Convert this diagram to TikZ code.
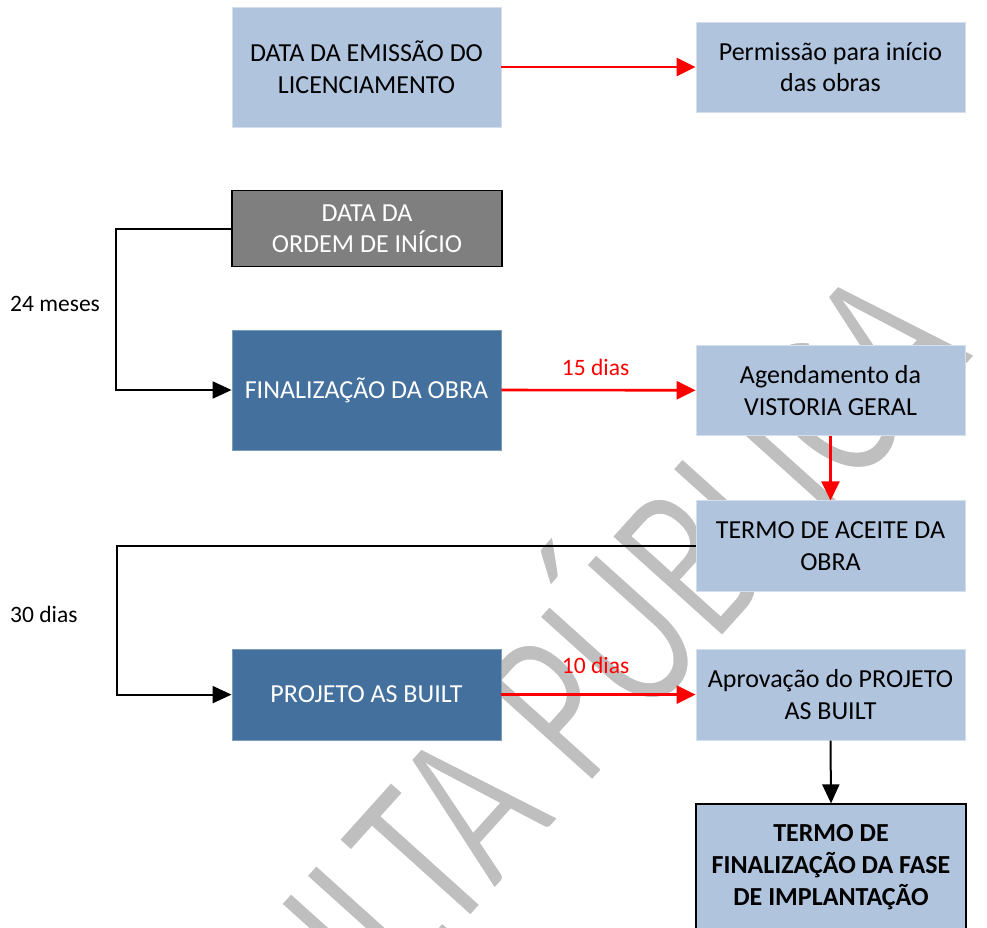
\documentclass[tikz,border=0pt]{standalone}
\usepackage{fontspec}
\setmainfont{Carlito}
\usepackage{tikz}
\usetikzlibrary{arrows.meta,shapes}

\definecolor{azulclaro}{RGB}{176,196,222}
\definecolor{azulescuro}{RGB}{68,112,158}
\definecolor{cinzaescuro}{RGB}{127,127,127}
\definecolor{marcadagua}{RGB}{191,191,191}

\begin{document}
\begin{tikzpicture} [x=1pt, y=-1pt,
				clara/.style={
				% The shape:
				rectangle,
				% The size:
				minimum width=269pt, minimum height=90pt, inner sep=0pt,
				% The border:
				line width=0.8pt, draw=azulclaro!55!white,
				% The filling:
				fill=azulclaro,
				% Font
				text=black, font=\fontsize{26}{31.7}\selectfont
				},
				escura/.style={
				% The shape:
				rectangle,
				% The size:
				minimum width=269pt, minimum height=90pt, inner sep=0pt,
				% The border:
				line width=0.8pt, draw=azulescuro!70!white,
				% The filling:
				fill=azulescuro,
				% Font
				text=white, font=\fontsize{26}{31.7}\selectfont
				},
				cinza/.style={
				% The shape:
				rectangle,
				% The size:
				minimum width=269pt, minimum height=75pt, inner sep=0pt,
				% The border:
				line width=1.2pt, draw=black,
				% The filling:
				fill=cinzaescuro,
				% Font
				text=white, font=\fontsize{26}{31.7}\selectfont
				},
				prazo/.style={
				anchor=base west, inner sep=0pt,
				font=\fontsize{23.5}{28}\selectfont
				},
				seta/.style={line width=2pt, draw=black, -{Triangle[length=19pt,width=17pt]}},
				setavermelha/.style={line width=2.6pt, draw=red, -{Triangle[length=19pt,width=18pt]}},
				]
    \tikzstyle{every node} = [align=center]
    \useasboundingbox (0,0) rectangle (987,927);
    % watermark (thinned with a white outline)
    \begin{scope}
    \clip (0,0) rectangle (987,927);
    \node [rotate=48, anchor=base west, inner sep=0pt, text=marcadagua,
           font=\fontsize{233}{233}\selectfont] (marca) at (80,1350)
          {\special{pdf:literal direct 2 Tr 1 1 1 RG 3 w}\scalebox{0.72}[1]{CONSULTA PÚBLICA}\special{pdf:literal direct 0 Tr}};
    \end{scope}
    % boxes
    \node [clara, minimum height=120pt] (licenca) at (366.5,67) {DATA DA EMISSÃO DO\\LICENCIAMENTO};
    \node [clara] (permissao) at (830.5,67) {Permissão para início\\das obras};
    \node [cinza, minimum width=270pt, minimum height=76pt] (ordem) at (367,228.7) {DATA DA\\ORDEM DE INÍCIO};
    \node [escura, minimum height=120pt] (finalizacao) at (366.5,390) {FINALIZAÇÃO DA OBRA};
    \node [clara] (vistoria) at (830.5,390.3) {Agendamento da\\VISTORIA GERAL};
    \node [clara, minimum height=91pt] (aceite) at (830.5,546.3) {TERMO DE ACEITE DA\\OBRA};
    \node [escura, minimum height=91pt] (asbuilt) at (366.5,694.6) {PROJETO AS BUILT};
    \node [clara, minimum height=91pt] (aprovacao) at (830.5,694.6) {Aprovação do PROJETO\\AS BUILT};
    \node [clara, draw=black, line width=1.2pt, minimum width=270pt, minimum height=126pt,
           font=\fontsize{26}{31.7}\selectfont\bfseries] (termo) at (831,867) {TERMO DE\\FINALIZAÇÃO DA FASE\\DE IMPLANTAÇÃO};
    % connectors
    \draw [setavermelha] (licenca.east) -- (permissao.west);
    \draw [seta] (ordem.west) -- ++(-115,0) |- (finalizacao.west);
    \draw [setavermelha] (finalizacao.east) -- (vistoria.west);
    \draw [setavermelha] (vistoria.south) -- (aceite.north);
    \draw [seta] (aceite.west) -- ++(-579,0) |- (asbuilt.west);
    \draw [setavermelha] (asbuilt.east) -- (aprovacao.west);
    \draw [seta] (aprovacao.south) -- (termo.north);
    % labels
    \node [prazo] (meses) at (10,311.7) {24 meses};
    \node [prazo] (trinta) at (10,622.7) {30 dias};
    \node [prazo, text=red] (quinze) at (561.7,375.7) {15 dias};
    \node [prazo, text=red] (dez) at (561.7,673.3) {10 dias};
\end{tikzpicture}
\end{document}
